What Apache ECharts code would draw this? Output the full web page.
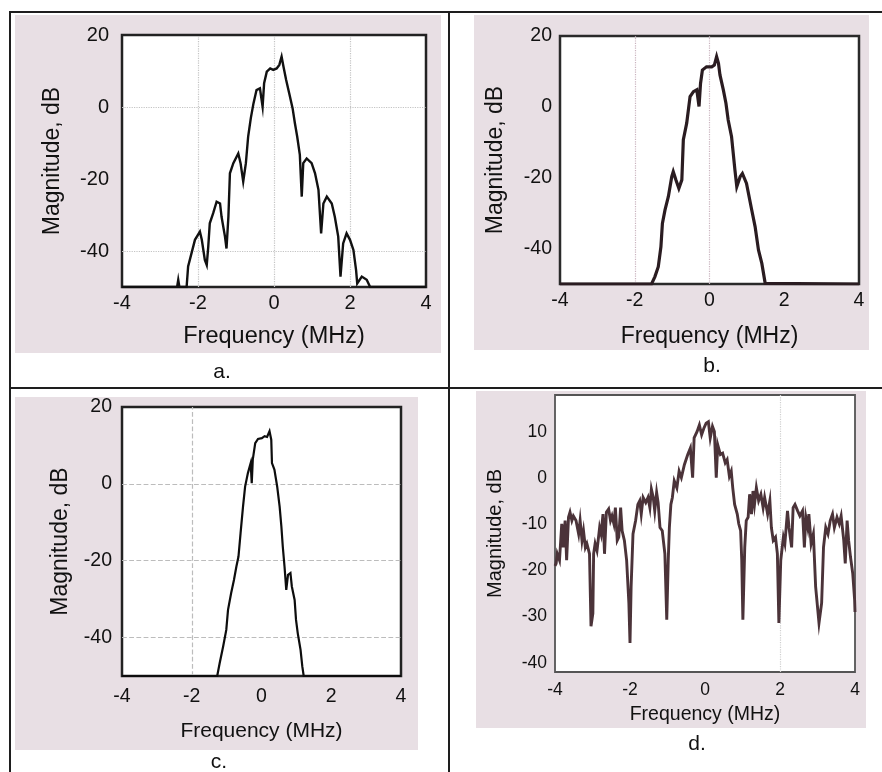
<!DOCTYPE html>
<html><head><meta charset="utf-8">
<script src="https://cdn.jsdelivr.net/npm/echarts@6/dist/echarts.min.js"></script>
<style>html,body{margin:0;padding:0;background:#fff}#c{width:882px;height:772px}</style>
</head><body><div id="c"></div>
<script>
// ---------- data ----------
const freqA = [-4,-2.55,-2.52,-2.49,-2.3,-2.26,-2.17,-2.08,-1.95,-1.9,-1.82,-1.77,-1.73,-1.69,-1.6,-1.51,-1.42,-1.38,-1.29,-1.25,-1.2,-1.16,-1.07,-0.94,-0.88,-0.81,-0.74,-0.68,-0.61,-0.54,-0.46,-0.37,-0.3,-0.26,-0.19,-0.1,-0.02,0.07,0.14,0.2,0.25,0.32,0.4,0.49,0.55,0.61,0.68,0.73,0.77,0.86,0.99,1.08,1.17,1.24,1.3,1.39,1.52,1.6,1.69,1.75,1.82,1.91,2.0,2.09,2.16,2.19,2.31,2.44,2.53,4];
const magA  = [-50,-50,-48,-50,-50,-44.3,-40.6,-36.9,-34.6,-36.9,-42.5,-43.9,-38.8,-32.3,-29.5,-26.3,-26.8,-30.5,-36,-39.3,-30.5,-18.4,-15.6,-12.9,-15.6,-20.7,-15.6,-8.2,-3.1,1,4.7,5.2,0.1,6.6,9.8,10.7,10.3,10.7,11.7,14,11.2,7.5,3.8,-0.4,-4.5,-8.2,-13.3,-24.9,-15.6,-14.3,-15.6,-18.4,-23,-35.1,-26.8,-24.9,-26.8,-30.5,-36,-47.1,-37.9,-35.1,-36.9,-39.7,-45.3,-49,-47.1,-48,-50,-50];

const freqB = [-4,-1.55,-1.46,-1.37,-1.3,-1.26,-1.19,-1.1,-1.01,-0.97,-0.9,-0.82,-0.74,-0.7,-0.61,-0.52,-0.43,-0.34,-0.28,-0.24,-0.19,-0.08,0.06,0.13,0.19,0.24,0.28,0.37,0.44,0.5,0.59,0.68,0.73,0.82,0.88,0.99,1.13,1.22,1.31,1.4,1.49,1.5,4];
const magB  = [-50,-50,-47.9,-45.1,-39.5,-32.9,-29.1,-25.3,-19.7,-18.3,-20.6,-23,-20.6,-9.3,-4.6,2.9,4.3,4.8,0.1,6.6,10.4,11.3,11.3,11.8,14.2,12.3,9,4.8,1,-3.7,-8.4,-17.8,-22.5,-19.7,-18.8,-21.6,-29.1,-33.8,-40.4,-44.2,-49.8,-50,-50];

const freqC = [-4,-1.27,-1.2,-1.1,-1.01,-0.96,-0.87,-0.79,-0.72,-0.66,-0.6,-0.53,-0.47,-0.39,-0.31,-0.28,-0.25,-0.18,-0.1,0.01,0.09,0.16,0.23,0.28,0.3,0.37,0.45,0.52,0.57,0.61,0.66,0.71,0.76,0.83,0.87,0.95,0.99,1.04,1.12,1.17,1.21,4];
const magC  = [-50,-50,-46.7,-42.3,-38,-32.8,-28.4,-25,-21.5,-18.9,-12.8,-5.9,-0.7,2.8,5.4,0.2,6.3,10.6,11.7,11.9,12.4,12.2,13.7,11.5,5.4,3.7,-0.7,-5.9,-11.1,-16.3,-21.5,-27.6,-23.7,-23.2,-26.7,-30.2,-35.4,-38.9,-43.2,-47.5,-50,-50];

const freqD = [-4,-3.97,-3.94,-3.88,-3.82,-3.78,-3.73,-3.69,-3.64,-3.6,-3.55,-3.51,-3.44,-3.37,-3.33,-3.28,-3.24,-3.19,-3.15,-3.08,-3.04,-2.99,-2.97,-2.93,-2.88,-2.81,-2.77,-2.72,-2.68,-2.63,-2.57,-2.52,-2.48,-2.43,-2.39,-2.34,-2.3,-2.25,-2.21,-2.15,-2.09,-2.03,-2.0,-1.97,-1.92,-1.85,-1.79,-1.74,-1.7,-1.65,-1.58,-1.52,-1.47,-1.43,-1.38,-1.34,-1.29,-1.25,-1.2,-1.14,-1.07,-1.02,-0.98,-0.95,-0.91,-0.87,-0.82,-0.75,-0.69,-0.63,-0.55,-0.46,-0.39,-0.33,-0.29,-0.21,-0.15,-0.09,-0.03,0.03,0.09,0.14,0.2,0.25,0.3,0.34,0.41,0.47,0.54,0.59,0.65,0.7,0.74,0.79,0.86,0.9,0.95,0.98,1.01,1.06,1.1,1.15,1.19,1.24,1.28,1.32,1.37,1.43,1.49,1.55,1.59,1.67,1.73,1.77,1.82,1.88,1.93,1.97,2.02,2.09,2.13,2.2,2.24,2.31,2.35,2.4,2.47,2.53,2.6,2.65,2.69,2.74,2.77,2.83,2.89,2.95,3.04,3.11,3.16,3.22,3.28,3.34,3.4,3.45,3.52,3.58,3.63,3.7,3.74,3.79,3.83,3.88,3.94,3.99,4];
const magD  = [-19,-18.5,-16.4,-17.8,-9.9,-15,-9.2,-17.8,-8.5,-7.4,-9.2,-8.2,-9.2,-12.1,-9.2,-13.5,-11.4,-15,-14.2,-16.4,-32.1,-29.3,-16.4,-14.2,-15.7,-10.7,-12.1,-7.8,-16.4,-7.4,-6.7,-9.2,-8.2,-9.9,-6.4,-13.5,-12.8,-6.4,-11.4,-13.5,-17.8,-27.1,-35.7,-23.5,-12.1,-9.2,-5.7,-4.9,-7.8,-4.2,-5.3,-4.2,-6.4,-2.4,-4.2,-7.1,-3.1,-5.3,-10.7,-11.4,-16.4,-30.7,-17.8,-10.7,-5.7,-4.2,-0.6,-2.1,1.5,0.1,2.9,5.1,6.5,0.1,8.7,10.1,11.5,9.4,10.8,11.9,12.2,8.7,11.2,10.1,0.1,7.2,5.1,5.4,3.3,4,0.4,1.5,-2.1,-5.7,-7.8,-9.9,-11.4,-17.8,-30.7,-15,-9.2,-8.5,-3.5,-7.8,-2.8,-5.7,-2.1,-4.9,-3.5,-6.4,-4.2,-7.8,-4.9,-10.7,-13.5,-12.8,-16.4,-31.4,-17.8,-12.8,-14.2,-7.1,-10.7,-15,-6.4,-5.7,-7.1,-8.2,-7.1,-15,-8.5,-10.7,-7.8,-14.2,-12.1,-23.5,-31.4,-27.1,-15,-10.7,-12.1,-9.2,-7.8,-10.7,-8.5,-9.9,-8.2,-13.5,-18.5,-9.2,-13.5,-17.1,-20.7,-26.4,-29];

const xTicks = [-4, -2, 0, 2, 4];
const yTicksABC = [20, 0, -20, -40];
const yTicksD = [10, 0, -10, -20, -30, -40];
const gridLinesX = [[-2, 0, 2], [-2, 0], [-2], [2]];
const gridLinesY = [[0, -40], [], [0, -20, -40], []];
const xName = 'Frequency (MHz)';
const yName = 'Magnitude, dB';
const panelLabels = ['a.', 'b.', 'c.', 'd.'];

// ---------- layout / style ----------
const FF = "'Liberation Sans', Arial, Helvetica, sans-serif";
const TXT = '#111';
const panels = [
  {freq: freqA, mag: magA, box:[122,35,304,252], ymin:-50, ymax:20, yint:10, yt:yTicksABC,
   tf:20, xm:6, ym:13, xnf:23.5, xng:38, ynf:23, yng:58, lc:'#111', lw:2.4, bc:'#222', bw:2.5, gc:'#c4c4c4', gt:'dotted'},
  {freq: freqB, mag: magB, box:[560,36,299,248], ymin:-50, ymax:20, yint:10, yt:yTicksABC,
   tf:19.5, xm:7, ym:8, xnf:23, xng:41, ynf:23, yng:53, lc:'#2a1c21', lw:3.2, bc:'#2a2a2a', bw:2.5, gc:'#c9b3be', gt:'dotted'},
  {freq: freqC, mag: magC, box:[122,407,279,269], ymin:-50, ymax:20, yint:10, yt:yTicksABC,
   tf:19.5, xm:11, ym:10, xnf:21, xng:45, ynf:23, yng:50, lc:'#0d0d0d', lw:2.2, bc:'#222', bw:2.5, gc:'#bcbcbc', gt:'dashed'},
  {freq: freqD, mag: magD, box:[555,395,300,277], ymin:-42, ymax:18, yint:2, yt:yTicksD,
   tf:17.5, xm:9, ym:8, xnf:19.5, xng:33, ynf:20, yng:50, lc:'#4b3339', lw:2.9, bc:'#555', bw:1.8, gc:'#cfcfcf', gt:'dotted'}
];

const grid = [], xAxis = [], yAxis = [], series = [];
panels.forEach((p, i) => {
  grid.push({left:p.box[0], top:p.box[1], width:p.box[2], height:p.box[3], show:true,
    backgroundColor:'#fff', borderColor:p.bc, borderWidth:p.bw, z:2});
  xAxis.push({type:'value', gridIndex:i, min:-4, max:4, interval:2,
    axisLine:{show:false}, axisTick:{show:false}, splitLine:{show:false},
    axisLabel:{margin:p.xm, fontSize:p.tf, fontFamily:FF, color:TXT,
      formatter: v => xTicks.includes(v) ? String(v) : ''},
    name:xName, nameLocation:'middle', nameGap:p.xng,
    nameTextStyle:{fontSize:p.xnf, fontFamily:FF, color:TXT}});
  yAxis.push({type:'value', gridIndex:i, min:p.ymin, max:p.ymax, interval:p.yint,
    axisLine:{show:false}, axisTick:{show:false}, splitLine:{show:false},
    axisLabel:{margin:p.ym, fontSize:p.tf, fontFamily:FF, color:TXT,
      formatter: v => p.yt.includes(v) ? String(v) : ''},
    name:yName, nameLocation:'middle', nameGap:p.yng,
    nameTextStyle:{fontSize:p.ynf, fontFamily:FF, color:TXT}});
  const ml = [];
  gridLinesX[i].forEach(v => ml.push({xAxis:v}));
  gridLinesY[i].forEach(v => ml.push({yAxis:v}));
  series.push({type:'line', xAxisIndex:i, yAxisIndex:i, z:6,
    data: p.freq.map((f, k) => [f, p.mag[k]]),
    showSymbol:false, symbol:'none', animation:false, clip:true,
    lineStyle:{color:p.lc, width:p.lw, join:'miter'},
    markLine:{silent:true, symbol:'none', animation:false, z:3, label:{show:false},
      lineStyle:{color:p.gc, type:p.gt, width:1.2}, data: ml}});
});

const PINK = '#e8dfe4', FRAME = '#1e1e1e';
const graphic = [
  {type:'rect', z:-10, shape:{x:15, y:15, width:426, height:338}, style:{fill:PINK}},
  {type:'rect', z:-10, shape:{x:474, y:15, width:395, height:335}, style:{fill:PINK}},
  {type:'rect', z:-10, shape:{x:15, y:397, width:403, height:353}, style:{fill:PINK}},
  {type:'rect', z:-10, shape:{x:476, y:391, width:390, height:337}, style:{fill:PINK}},
  {type:'line', z:10, shape:{x1:9, y1:12, x2:882, y2:12}, style:{stroke:FRAME, lineWidth:2}},
  {type:'line', z:10, shape:{x1:10, y1:12, x2:10, y2:772}, style:{stroke:FRAME, lineWidth:2}},
  {type:'line', z:10, shape:{x1:449, y1:12, x2:449, y2:772}, style:{stroke:FRAME, lineWidth:2}},
  {type:'line', z:10, shape:{x1:10, y1:388, x2:882, y2:388}, style:{stroke:FRAME, lineWidth:2}},
  {type:'text', z:10, x:222, y:372, style:{text:panelLabels[0], font:"21px " + FF, fill:TXT, align:'center', verticalAlign:'middle'}},
  {type:'text', z:10, x:712, y:366, style:{text:panelLabels[1], font:"21px " + FF, fill:TXT, align:'center', verticalAlign:'middle'}},
  {type:'text', z:10, x:219, y:762, style:{text:panelLabels[2], font:"21px " + FF, fill:TXT, align:'center', verticalAlign:'middle'}},
  {type:'text', z:10, x:697, y:744, style:{text:panelLabels[3], font:"21px " + FF, fill:TXT, align:'center', verticalAlign:'middle'}}
];

const chart = echarts.init(document.getElementById('c'), null, {renderer:'canvas'});
chart.setOption({backgroundColor:'#fff', animation:false, grid, xAxis, yAxis, series, graphic});
</script></body></html>
